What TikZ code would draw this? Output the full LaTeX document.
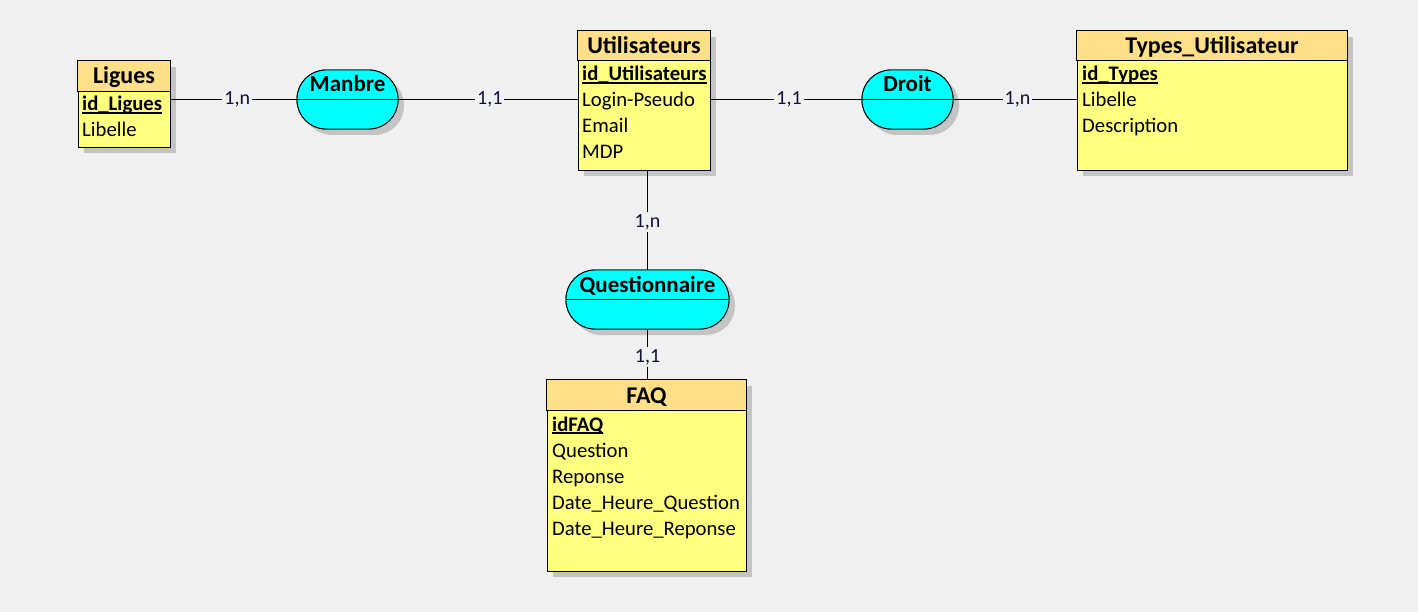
\documentclass[tikz,border=0pt]{standalone}
\usepackage{fontspec}
\setmainfont{Carlito}
\definecolor{bg}{HTML}{F0F0F0}
\definecolor{hdrcol}{HTML}{FFDF88}
\definecolor{bodycol}{HTML}{FFFF80}
\definecolor{relcol}{HTML}{00FFFF}
\definecolor{shdcol}{HTML}{C4C4C4}
\definecolor{lblcol}{HTML}{10103A}
\newcommand\pk[1]{\setbox0\hbox{\bfseries #1}\rlap{\rule[-2.6pt]{\wd0}{1.4pt}}\box0}
\tikzset{
  ent/.style={draw=black, line width=0.9pt, fill=bodycol, inner sep=0pt},
  entshd/.style={fill=shdcol, inner sep=0pt},
  hdr/.style={draw=black, line width=0.9pt, fill=hdrcol},
  rel/.style={draw=black, line width=0.9pt, fill=relcol, rounded corners=29pt, minimum width=#1, minimum height=59pt, inner sep=0pt},
  relshd/.style={fill=shdcol, rounded corners=29pt, minimum width=#1, minimum height=59pt, inner sep=0pt},
  ttl/.style={anchor=base, inner sep=0pt, font=\fontsize{24}{28}\selectfont\bfseries},
  rttl/.style={anchor=base, inner sep=0pt, font=\fontsize{23}{27}\selectfont\bfseries},
  attr/.style={anchor=base west, inner sep=0pt, font=\fontsize{20.7}{26}\selectfont},
  conn/.style={draw=black, line width=0.9pt},
  lbl/.style={fill=bg, inner sep=2pt, text=lblcol, font=\fontsize{20}{22}\selectfont},
}
\begin{document}
\begin{tikzpicture}[x=1pt,y=-1pt]
\useasboundingbox[fill=bg] (0,0) rectangle (1418,612);

% ---------- shadows ----------
\node[entshd, minimum width=92pt, minimum height=86pt] (ligues-s) at (130,110) {};
\node[entshd, minimum width=132pt, minimum height=139pt] (util-s) at (650,106.5) {};
\node[entshd, minimum width=270pt, minimum height=139pt] (types-s) at (1218,106.5) {};
\node[entshd, minimum width=199pt, minimum height=191pt] (faq-s) at (652.5,481.5) {};
\node[relshd=101pt] (manbre-s) at (353.5,105.5) {};
\node[relshd=91pt] (droit-s) at (913.5,105.5) {};
\node[relshd=163pt] (quest-s) at (653.5,305.5) {};

% ---------- nodes used by the connectors ----------
\node[rel=101pt] (manbre) at (347.5,99.5) {};
\node[rel=91pt] (droit) at (907.5,99.5) {};
\node[rel=163pt] (quest) at (647.5,299.5) {};
\node[ent, minimum width=92pt, minimum height=86pt] (ligues) at (124,104) {};
\node[ent, minimum width=132pt, minimum height=139pt] (util) at (644,100.5) {};
\node[ent, minimum width=270pt, minimum height=139pt] (types) at (1212,100.5) {};
\node[ent, minimum width=199pt, minimum height=191pt] (faq) at (646.5,475.5) {};

% ---------- connectors ----------
\draw[conn] (ligues.east |- manbre.west) -- node[lbl, pos=0.53] (l1) {1,n} (manbre.west);
\draw[conn] (manbre.east) -- node[lbl, pos=0.51] (l2) {1,1} (util.west |- manbre.east);
\draw[conn] (util.east |- droit.west) -- node[lbl, pos=0.52] (l3) {1,1} (droit.west);
\draw[conn] (droit.east) -- node[lbl, pos=0.52] (l4) {1,n} (types.west |- droit.east);
\draw[conn] (quest.north |- util.south) -- node[lbl, pos=0.52] (l5) {1,n} (quest.north);
\draw[conn] (quest.south) -- node[lbl, pos=0.55] (l6) {1,1} (quest.south |- faq.north);

% ---------- relationships ----------
\node[rel=101pt] at (manbre) {};
\draw[conn] (manbre.west) -- (manbre.east);
\node[rttl] (manbre-t) at (347.5,92) {Manbre};
\node[rel=91pt] at (droit) {};
\draw[conn] (droit.west) -- (droit.east);
\node[rttl] (droit-t) at (907.5,92) {Droit};
\node[rel=163pt] at (quest) {};
\draw[conn] (quest.west) -- (quest.east);
\node[rttl] (quest-t) at (647.5,292) {Questionnaire};

% ---------- entities ----------
\node[ent, minimum width=92pt, minimum height=86pt] at (ligues) {};
\draw[hdr] (ligues.north west) rectangle (ligues.east |- 0,91);
\node[ttl] (ligues-t) at (124,83.5) {Ligues};
\node[attr] (ligues-a1) at (82,111) {\pk{id\_Ligues}};
\node[attr] (ligues-a2) at (82,137) {Libelle};

\node[ent, minimum width=132pt, minimum height=139pt] at (util) {};
\draw[hdr] (util.north west) rectangle (util.east |- 0,60);
\node[ttl] (util-t) at (644,53.5) {Utilisateurs};
\node[attr] (util-a1) at (582,81) {\pk{id\_Utilisateurs}};
\node[attr] (util-a2) at (582,107) {Login-Pseudo};
\node[attr] (util-a3) at (582,133) {Email};
\node[attr] (util-a4) at (582,159) {MDP};

\node[ent, minimum width=270pt, minimum height=139pt] at (types) {};
\draw[hdr] (types.north west) rectangle (types.east |- 0,60);
\node[ttl] (types-t) at (1212,53.5) {Types\_Utilisateur};
\node[attr] (types-a1) at (1082,81) {\pk{id\_Types}};
\node[attr] (types-a2) at (1082,107) {Libelle};
\node[attr] (types-a3) at (1082,133) {Description};

\node[ent, minimum width=199pt, minimum height=191pt] at (faq) {};
\draw[hdr] (faq.north west) rectangle (faq.east |- 0,410);
\node[ttl] (faq-t) at (646.5,403.5) {FAQ};
\node[attr] (faq-a1) at (552,431) {\pk{idFAQ}};
\node[attr] (faq-a2) at (552,457) {Question};
\node[attr] (faq-a3) at (552,483) {Reponse};
\node[attr] (faq-a4) at (552,509) {Date\_Heure\_Question};
\node[attr] (faq-a5) at (552,535) {Date\_Heure\_Reponse};
\end{tikzpicture}
\end{document}
